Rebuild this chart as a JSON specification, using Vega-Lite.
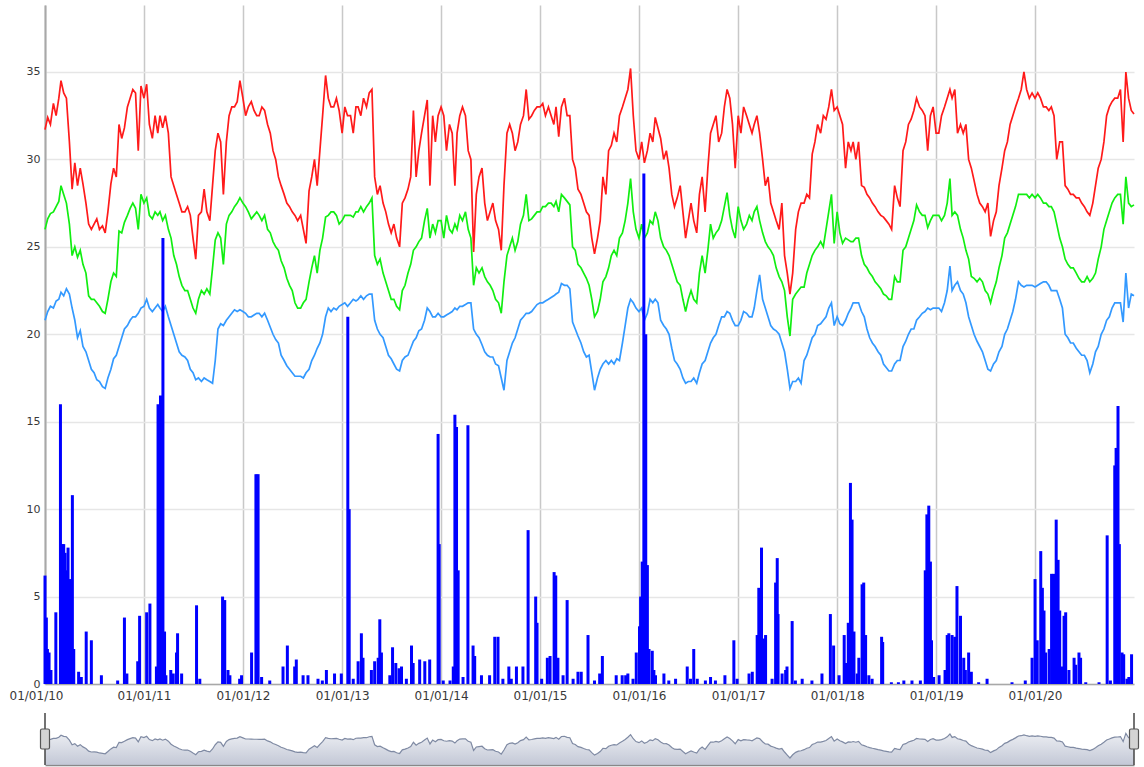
{
"$schema":"https://vega.github.io/schema/vega-lite/v6.json",
"padding":{"left":5,"top":5,"right":5,"bottom":2},
"background":"white",
"spacing":10,
"config":{"view":{"stroke":null},"axis":{"labelFont":"DejaVu Sans","labelColor":"#383838"},"scale":{"continuousPadding":0}},
"datasets":{
"ends":[{"d":"2010-01-01"},{"d":"2020-12-31"}],
"t":[
{"d":"2010-01-01","hi":31.7,"av":26.0,"lo":20.8},{"d":"2010-01-11","hi":32.4,"av":26.6,"lo":21.3},{"d":"2010-01-21","hi":32.0,"av":26.9,"lo":21.6},
{"d":"2010-02-01","hi":33.2,"av":27.0,"lo":21.5},{"d":"2010-02-11","hi":32.5,"av":27.3,"lo":21.9},{"d":"2010-02-21","hi":33.5,"av":27.6,"lo":22.0},
{"d":"2010-03-01","hi":34.5,"av":28.5,"lo":22.4},{"d":"2010-03-11","hi":33.8,"av":28.0,"lo":22.2},{"d":"2010-03-21","hi":33.5,"av":27.5,"lo":22.6},
{"d":"2010-04-01","hi":31.0,"av":26.3,"lo":22.3},{"d":"2010-04-11","hi":28.3,"av":24.5,"lo":21.5},{"d":"2010-04-21","hi":29.8,"av":25.0,"lo":20.8},
{"d":"2010-05-01","hi":28.5,"av":24.4,"lo":19.8},{"d":"2010-05-11","hi":29.5,"av":24.8,"lo":20.2},{"d":"2010-05-21","hi":28.6,"av":24.0,"lo":19.3},
{"d":"2010-06-01","hi":27.5,"av":23.5,"lo":19.0},{"d":"2010-06-11","hi":26.3,"av":22.2,"lo":18.5},{"d":"2010-06-21","hi":26.0,"av":22.0,"lo":18.0},
{"d":"2010-07-01","hi":26.3,"av":22.0,"lo":17.8},{"d":"2010-07-11","hi":26.6,"av":21.8,"lo":17.4},{"d":"2010-07-21","hi":26.0,"av":21.6,"lo":17.3},
{"d":"2010-08-01","hi":26.2,"av":21.3,"lo":17.0},{"d":"2010-08-11","hi":25.8,"av":21.2,"lo":16.9},{"d":"2010-08-21","hi":27.0,"av":22.0,"lo":17.5},
{"d":"2010-09-01","hi":28.6,"av":23.0,"lo":18.0},{"d":"2010-09-11","hi":29.5,"av":23.5,"lo":18.6},{"d":"2010-09-21","hi":29.0,"av":23.3,"lo":18.8},
{"d":"2010-10-01","hi":32.0,"av":25.9,"lo":19.3},{"d":"2010-10-11","hi":31.2,"av":25.8,"lo":19.8},{"d":"2010-10-21","hi":31.8,"av":26.4,"lo":20.3},
{"d":"2010-11-01","hi":33.0,"av":26.8,"lo":20.5},{"d":"2010-11-11","hi":33.5,"av":27.2,"lo":20.8},{"d":"2010-11-21","hi":34.0,"av":27.5,"lo":21.0},
{"d":"2010-12-01","hi":33.8,"av":27.2,"lo":21.0},{"d":"2010-12-11","hi":30.5,"av":26.0,"lo":21.2},{"d":"2010-12-21","hi":34.2,"av":28.0,"lo":21.5},
{"d":"2011-01-01","hi":33.5,"av":27.5,"lo":21.6},{"d":"2011-01-11","hi":34.3,"av":27.8,"lo":22.0},{"d":"2011-01-21","hi":32.0,"av":26.8,"lo":21.5},
{"d":"2011-02-01","hi":31.2,"av":26.6,"lo":21.3},{"d":"2011-02-11","hi":32.5,"av":27.0,"lo":21.5},{"d":"2011-02-21","hi":31.5,"av":26.8,"lo":21.7},
{"d":"2011-03-01","hi":32.5,"av":27.0,"lo":21.5},{"d":"2011-03-11","hi":31.8,"av":26.5,"lo":21.3},{"d":"2011-03-21","hi":32.5,"av":26.8,"lo":21.6},
{"d":"2011-04-01","hi":31.5,"av":26.0,"lo":21.0},{"d":"2011-04-11","hi":29.0,"av":25.5,"lo":20.5},{"d":"2011-04-21","hi":28.5,"av":24.5,"lo":20.0},
{"d":"2011-05-01","hi":28.0,"av":24.0,"lo":19.5},{"d":"2011-05-11","hi":27.5,"av":23.3,"lo":19.0},{"d":"2011-05-21","hi":27.0,"av":22.8,"lo":18.8},
{"d":"2011-06-01","hi":27.0,"av":22.5,"lo":18.7},{"d":"2011-06-11","hi":27.3,"av":22.5,"lo":18.5},{"d":"2011-06-21","hi":26.8,"av":22.0,"lo":18.0},
{"d":"2011-07-01","hi":25.5,"av":21.5,"lo":17.8},{"d":"2011-07-11","hi":24.3,"av":21.2,"lo":17.4},{"d":"2011-07-21","hi":26.8,"av":22.0,"lo":17.5},
{"d":"2011-08-01","hi":27.0,"av":22.5,"lo":17.3},{"d":"2011-08-11","hi":28.3,"av":22.3,"lo":17.5},{"d":"2011-08-21","hi":27.0,"av":22.6,"lo":17.4},
{"d":"2011-09-01","hi":26.5,"av":22.3,"lo":17.3},{"d":"2011-09-11","hi":28.5,"av":23.8,"lo":17.2},{"d":"2011-09-21","hi":30.5,"av":25.4,"lo":18.5},
{"d":"2011-10-01","hi":31.5,"av":25.8,"lo":20.3},{"d":"2011-10-11","hi":31.0,"av":25.5,"lo":20.6},{"d":"2011-10-21","hi":28.0,"av":24.0,"lo":20.5},
{"d":"2011-11-01","hi":31.0,"av":26.3,"lo":20.8},{"d":"2011-11-11","hi":32.5,"av":26.8,"lo":21.0},{"d":"2011-11-21","hi":33.0,"av":27.0,"lo":21.2},
{"d":"2011-12-01","hi":33.0,"av":27.3,"lo":21.4},{"d":"2011-12-11","hi":33.3,"av":27.5,"lo":21.3},{"d":"2011-12-21","hi":34.5,"av":27.8,"lo":21.4},
{"d":"2012-01-01","hi":33.5,"av":27.5,"lo":21.3},{"d":"2012-01-11","hi":32.5,"av":27.3,"lo":21.2},{"d":"2012-01-21","hi":33.0,"av":27.0,"lo":21.0},
{"d":"2012-02-01","hi":33.3,"av":26.6,"lo":21.0},{"d":"2012-02-11","hi":32.8,"av":26.8,"lo":21.1},{"d":"2012-02-21","hi":32.5,"av":27.0,"lo":21.2},
{"d":"2012-03-01","hi":32.5,"av":26.8,"lo":21.2},{"d":"2012-03-11","hi":33.0,"av":26.5,"lo":21.0},{"d":"2012-03-21","hi":32.8,"av":26.8,"lo":21.2},
{"d":"2012-04-01","hi":32.0,"av":26.0,"lo":20.8},{"d":"2012-04-11","hi":31.5,"av":25.8,"lo":20.4},{"d":"2012-04-21","hi":30.5,"av":25.3,"lo":20.0},
{"d":"2012-05-01","hi":30.0,"av":25.0,"lo":19.7},{"d":"2012-05-11","hi":29.0,"av":24.8,"lo":19.5},{"d":"2012-05-21","hi":28.5,"av":24.2,"lo":18.8},
{"d":"2012-06-01","hi":28.0,"av":23.8,"lo":18.5},{"d":"2012-06-11","hi":27.5,"av":23.2,"lo":18.2},{"d":"2012-06-21","hi":27.3,"av":22.8,"lo":18.0},
{"d":"2012-07-01","hi":27.0,"av":22.5,"lo":17.8},{"d":"2012-07-11","hi":26.8,"av":21.8,"lo":17.6},{"d":"2012-07-21","hi":26.5,"av":21.5,"lo":17.6},
{"d":"2012-08-01","hi":26.8,"av":21.5,"lo":17.6},{"d":"2012-08-11","hi":26.0,"av":21.8,"lo":17.5},{"d":"2012-08-21","hi":25.2,"av":22.0,"lo":17.8},
{"d":"2012-09-01","hi":28.2,"av":23.0,"lo":18.0},{"d":"2012-09-11","hi":29.0,"av":23.8,"lo":18.5},{"d":"2012-09-21","hi":30.0,"av":24.5,"lo":18.8},
{"d":"2012-10-01","hi":28.5,"av":23.5,"lo":19.2},{"d":"2012-10-11","hi":30.5,"av":24.8,"lo":19.5},{"d":"2012-10-21","hi":32.5,"av":25.5,"lo":20.0},
{"d":"2012-11-01","hi":34.8,"av":26.7,"lo":21.0},{"d":"2012-11-11","hi":33.5,"av":26.8,"lo":21.5},{"d":"2012-11-21","hi":33.0,"av":27.0,"lo":21.3},
{"d":"2012-12-01","hi":33.0,"av":27.0,"lo":21.5},{"d":"2012-12-11","hi":33.5,"av":26.8,"lo":21.4},{"d":"2012-12-21","hi":32.8,"av":26.3,"lo":21.6},
{"d":"2013-01-01","hi":31.5,"av":26.5,"lo":21.7},{"d":"2013-01-11","hi":33.0,"av":26.8,"lo":21.8},{"d":"2013-01-21","hi":32.5,"av":26.8,"lo":21.6},
{"d":"2013-02-01","hi":32.5,"av":26.8,"lo":21.8},{"d":"2013-02-11","hi":31.5,"av":26.7,"lo":22.0},{"d":"2013-02-21","hi":33.0,"av":27.0,"lo":21.9},
{"d":"2013-03-01","hi":33.0,"av":27.0,"lo":22.0},{"d":"2013-03-11","hi":32.5,"av":27.3,"lo":22.2},{"d":"2013-03-21","hi":33.5,"av":27.0,"lo":22.0},
{"d":"2013-04-01","hi":33.0,"av":27.3,"lo":22.2},{"d":"2013-04-11","hi":33.8,"av":27.5,"lo":22.3},{"d":"2013-04-21","hi":34.0,"av":27.8,"lo":22.3},
{"d":"2013-05-01","hi":29.0,"av":24.5,"lo":20.8},{"d":"2013-05-11","hi":28.0,"av":24.0,"lo":20.3},{"d":"2013-05-21","hi":28.5,"av":24.3,"lo":20.0},
{"d":"2013-06-01","hi":27.5,"av":23.5,"lo":19.8},{"d":"2013-06-11","hi":27.0,"av":23.0,"lo":19.3},{"d":"2013-06-21","hi":26.3,"av":22.5,"lo":18.8},
{"d":"2013-07-01","hi":25.8,"av":22.0,"lo":18.6},{"d":"2013-07-11","hi":26.3,"av":22.0,"lo":18.3},{"d":"2013-07-21","hi":25.5,"av":21.6,"lo":18.0},
{"d":"2013-08-01","hi":25.0,"av":21.4,"lo":17.9},{"d":"2013-08-11","hi":27.5,"av":22.5,"lo":18.5},{"d":"2013-08-21","hi":27.8,"av":22.8,"lo":18.7},
{"d":"2013-09-01","hi":28.3,"av":23.5,"lo":18.8},{"d":"2013-09-11","hi":29.0,"av":24.0,"lo":19.2},{"d":"2013-09-21","hi":32.8,"av":24.8,"lo":19.6},
{"d":"2013-10-01","hi":29.0,"av":25.0,"lo":19.8},{"d":"2013-10-11","hi":30.5,"av":25.3,"lo":20.2},{"d":"2013-10-21","hi":31.5,"av":25.5,"lo":20.3},
{"d":"2013-11-01","hi":32.5,"av":26.5,"lo":20.8},{"d":"2013-11-11","hi":33.4,"av":27.2,"lo":21.5},{"d":"2013-11-21","hi":28.5,"av":25.5,"lo":21.3},
{"d":"2013-12-01","hi":32.5,"av":26.3,"lo":21.0},{"d":"2013-12-11","hi":31.0,"av":25.8,"lo":21.0},{"d":"2013-12-21","hi":32.5,"av":26.5,"lo":21.2},
{"d":"2014-01-01","hi":33.0,"av":26.5,"lo":21.0},{"d":"2014-01-11","hi":32.5,"av":25.5,"lo":21.0},{"d":"2014-01-21","hi":30.5,"av":26.8,"lo":21.1},
{"d":"2014-02-01","hi":32.0,"av":26.0,"lo":21.2},{"d":"2014-02-11","hi":31.5,"av":25.8,"lo":21.3},{"d":"2014-02-21","hi":28.5,"av":26.3,"lo":21.5},
{"d":"2014-03-01","hi":31.5,"av":26.0,"lo":21.4},{"d":"2014-03-11","hi":32.5,"av":26.8,"lo":21.6},{"d":"2014-03-21","hi":33.0,"av":26.5,"lo":21.6},
{"d":"2014-04-01","hi":32.5,"av":27.0,"lo":21.7},{"d":"2014-04-11","hi":30.5,"av":26.0,"lo":21.8},{"d":"2014-04-21","hi":30.0,"av":25.5,"lo":21.8},
{"d":"2014-05-01","hi":24.7,"av":22.8,"lo":20.3},{"d":"2014-05-11","hi":28.0,"av":23.8,"lo":20.0},{"d":"2014-05-21","hi":29.0,"av":23.5,"lo":19.8},
{"d":"2014-06-01","hi":29.5,"av":23.8,"lo":19.4},{"d":"2014-06-11","hi":27.5,"av":23.3,"lo":19.0},{"d":"2014-06-21","hi":26.5,"av":23.0,"lo":18.8},
{"d":"2014-07-01","hi":27.0,"av":22.8,"lo":18.7},{"d":"2014-07-11","hi":27.5,"av":22.5,"lo":18.7},{"d":"2014-07-21","hi":26.5,"av":22.0,"lo":18.3},
{"d":"2014-08-01","hi":26.0,"av":21.8,"lo":18.2},{"d":"2014-08-11","hi":24.8,"av":21.2,"lo":17.5},{"d":"2014-08-21","hi":28.5,"av":23.0,"lo":16.8},
{"d":"2014-09-01","hi":31.5,"av":24.5,"lo":18.5},{"d":"2014-09-11","hi":32.0,"av":25.0,"lo":19.0},{"d":"2014-09-21","hi":31.5,"av":25.5,"lo":19.5},
{"d":"2014-10-01","hi":30.5,"av":24.8,"lo":19.8},{"d":"2014-10-11","hi":31.0,"av":25.3,"lo":20.3},{"d":"2014-10-21","hi":32.0,"av":26.3,"lo":20.8},
{"d":"2014-11-01","hi":32.5,"av":26.8,"lo":21.0},{"d":"2014-11-11","hi":34.0,"av":28.0,"lo":21.2},{"d":"2014-11-21","hi":32.3,"av":26.5,"lo":21.2},
{"d":"2014-12-01","hi":32.5,"av":26.6,"lo":21.3},{"d":"2014-12-11","hi":32.8,"av":26.8,"lo":21.5},{"d":"2014-12-21","hi":33.0,"av":27.0,"lo":21.7},
{"d":"2015-01-01","hi":33.0,"av":27.0,"lo":21.8},{"d":"2015-01-11","hi":33.2,"av":27.3,"lo":21.8},{"d":"2015-01-21","hi":32.5,"av":27.3,"lo":21.9},
{"d":"2015-02-01","hi":33.0,"av":27.5,"lo":22.0},{"d":"2015-02-11","hi":32.5,"av":27.5,"lo":22.1},{"d":"2015-02-21","hi":32.0,"av":27.3,"lo":22.2},
{"d":"2015-03-01","hi":33.0,"av":27.6,"lo":22.3},{"d":"2015-03-11","hi":31.3,"av":27.0,"lo":22.4},{"d":"2015-03-21","hi":33.0,"av":28.0,"lo":22.9},
{"d":"2015-04-01","hi":33.5,"av":27.8,"lo":22.8},{"d":"2015-04-11","hi":32.5,"av":27.6,"lo":22.8},{"d":"2015-04-21","hi":32.5,"av":27.4,"lo":22.6},
{"d":"2015-05-01","hi":30.0,"av":25.0,"lo":20.7},{"d":"2015-05-11","hi":29.5,"av":24.8,"lo":20.3},{"d":"2015-05-21","hi":28.3,"av":24.0,"lo":19.9},
{"d":"2015-06-01","hi":28.0,"av":23.8,"lo":19.5},{"d":"2015-06-11","hi":27.5,"av":23.5,"lo":19.0},{"d":"2015-06-21","hi":27.0,"av":23.2,"lo":18.7},
{"d":"2015-07-01","hi":26.8,"av":22.8,"lo":18.8},{"d":"2015-07-11","hi":25.5,"av":22.0,"lo":17.8},{"d":"2015-07-21","hi":24.6,"av":21.0,"lo":16.8},
{"d":"2015-08-01","hi":25.5,"av":21.3,"lo":17.5},{"d":"2015-08-11","hi":26.5,"av":22.0,"lo":18.0},{"d":"2015-08-21","hi":29.0,"av":23.0,"lo":18.3},
{"d":"2015-09-01","hi":28.0,"av":23.3,"lo":18.5},{"d":"2015-09-11","hi":30.5,"av":23.8,"lo":18.3},{"d":"2015-09-21","hi":30.8,"av":24.5,"lo":18.5},
{"d":"2015-10-01","hi":31.5,"av":24.8,"lo":18.3},{"d":"2015-10-11","hi":31.0,"av":24.5,"lo":18.6},{"d":"2015-10-21","hi":32.5,"av":25.5,"lo":18.5},
{"d":"2015-11-01","hi":33.0,"av":25.8,"lo":19.5},{"d":"2015-11-11","hi":33.5,"av":26.5,"lo":20.5},{"d":"2015-11-21","hi":34.0,"av":27.5,"lo":21.5},
{"d":"2015-12-01","hi":35.2,"av":28.9,"lo":22.0},{"d":"2015-12-11","hi":32.5,"av":27.0,"lo":21.8},{"d":"2015-12-21","hi":30.5,"av":26.0,"lo":21.5},
{"d":"2016-01-01","hi":30.0,"av":25.5,"lo":21.3},{"d":"2016-01-11","hi":31.0,"av":26.3,"lo":21.5},{"d":"2016-01-21","hi":29.8,"av":25.5,"lo":20.8},
{"d":"2016-02-01","hi":30.5,"av":25.8,"lo":21.2},{"d":"2016-02-11","hi":31.5,"av":26.5,"lo":22.0},{"d":"2016-02-21","hi":31.0,"av":26.3,"lo":21.8},
{"d":"2016-03-01","hi":32.4,"av":27.0,"lo":22.0},{"d":"2016-03-11","hi":31.8,"av":26.5,"lo":21.8},{"d":"2016-03-21","hi":31.2,"av":25.5,"lo":20.8},
{"d":"2016-04-01","hi":30.0,"av":25.0,"lo":20.5},{"d":"2016-04-11","hi":30.5,"av":24.8,"lo":20.3},{"d":"2016-04-21","hi":29.5,"av":24.5,"lo":20.0},
{"d":"2016-05-01","hi":28.0,"av":24.0,"lo":19.2},{"d":"2016-05-11","hi":27.3,"av":23.5,"lo":18.5},{"d":"2016-05-21","hi":27.8,"av":23.0,"lo":18.3},
{"d":"2016-06-01","hi":28.5,"av":22.8,"lo":18.0},{"d":"2016-06-11","hi":27.0,"av":22.0,"lo":17.5},{"d":"2016-06-21","hi":25.5,"av":21.3,"lo":17.2},
{"d":"2016-07-01","hi":26.5,"av":22.0,"lo":17.3},{"d":"2016-07-11","hi":27.5,"av":22.5,"lo":17.3},{"d":"2016-07-21","hi":26.5,"av":22.0,"lo":17.5},
{"d":"2016-08-01","hi":25.8,"av":21.8,"lo":17.2},{"d":"2016-08-11","hi":28.0,"av":23.5,"lo":17.8},{"d":"2016-08-21","hi":29.0,"av":24.5,"lo":18.3},
{"d":"2016-09-01","hi":27.0,"av":23.5,"lo":18.5},{"d":"2016-09-11","hi":29.5,"av":24.8,"lo":19.0},{"d":"2016-09-21","hi":31.5,"av":26.3,"lo":19.5},
{"d":"2016-10-01","hi":32.0,"av":25.5,"lo":19.8},{"d":"2016-10-11","hi":32.5,"av":25.8,"lo":20.0},{"d":"2016-10-21","hi":31.0,"av":26.0,"lo":20.5},
{"d":"2016-11-01","hi":31.5,"av":26.5,"lo":21.0},{"d":"2016-11-11","hi":33.0,"av":27.3,"lo":21.0},{"d":"2016-11-21","hi":34.0,"av":28.1,"lo":21.3},
{"d":"2016-12-01","hi":33.5,"av":26.8,"lo":21.2},{"d":"2016-12-11","hi":32.0,"av":26.0,"lo":20.8},{"d":"2016-12-21","hi":29.5,"av":25.5,"lo":20.5},
{"d":"2017-01-01","hi":32.5,"av":27.3,"lo":20.5},{"d":"2017-01-11","hi":31.5,"av":26.5,"lo":20.8},{"d":"2017-01-21","hi":33.0,"av":26.0,"lo":21.3},
{"d":"2017-02-01","hi":32.5,"av":26.3,"lo":21.2},{"d":"2017-02-11","hi":32.0,"av":26.8,"lo":21.0},{"d":"2017-02-21","hi":31.5,"av":26.5,"lo":21.0},
{"d":"2017-03-01","hi":32.0,"av":27.0,"lo":21.5},{"d":"2017-03-11","hi":32.5,"av":27.3,"lo":22.5},{"d":"2017-03-21","hi":31.5,"av":26.5,"lo":23.4},
{"d":"2017-04-01","hi":30.0,"av":25.8,"lo":22.0},{"d":"2017-04-11","hi":28.5,"av":25.3,"lo":21.5},{"d":"2017-04-21","hi":29.0,"av":25.0,"lo":21.0},
{"d":"2017-05-01","hi":27.5,"av":24.8,"lo":20.5},{"d":"2017-05-11","hi":27.0,"av":24.5,"lo":20.3},{"d":"2017-05-21","hi":26.5,"av":23.8,"lo":20.2},
{"d":"2017-06-01","hi":26.0,"av":23.3,"lo":20.0},{"d":"2017-06-11","hi":27.5,"av":23.0,"lo":19.5},{"d":"2017-06-21","hi":24.5,"av":22.5,"lo":19.0},
{"d":"2017-07-01","hi":23.5,"av":21.0,"lo":18.0},{"d":"2017-07-11","hi":22.3,"av":19.9,"lo":16.9},{"d":"2017-07-21","hi":23.5,"av":22.0,"lo":17.3},
{"d":"2017-08-01","hi":26.0,"av":22.3,"lo":17.3},{"d":"2017-08-11","hi":27.0,"av":22.5,"lo":17.5},{"d":"2017-08-21","hi":27.5,"av":22.7,"lo":17.2},
{"d":"2017-09-01","hi":27.5,"av":22.7,"lo":18.5},{"d":"2017-09-11","hi":28.0,"av":23.5,"lo":18.8},{"d":"2017-09-21","hi":27.8,"av":24.0,"lo":19.3},
{"d":"2017-10-01","hi":30.3,"av":24.5,"lo":19.8},{"d":"2017-10-11","hi":31.0,"av":24.8,"lo":20.0},{"d":"2017-10-21","hi":32.0,"av":25.0,"lo":20.5},
{"d":"2017-11-01","hi":31.5,"av":25.3,"lo":20.6},{"d":"2017-11-11","hi":32.5,"av":25.0,"lo":20.8},{"d":"2017-11-21","hi":32.3,"av":26.0,"lo":21.0},
{"d":"2017-12-01","hi":33.0,"av":27.0,"lo":21.5},{"d":"2017-12-11","hi":34.0,"av":28.0,"lo":21.8},{"d":"2017-12-21","hi":32.8,"av":25.2,"lo":20.5},
{"d":"2018-01-01","hi":33.0,"av":27.0,"lo":21.0},{"d":"2018-01-11","hi":32.5,"av":25.8,"lo":20.6},{"d":"2018-01-21","hi":32.0,"av":25.2,"lo":20.5},
{"d":"2018-02-01","hi":29.5,"av":25.5,"lo":20.8},{"d":"2018-02-11","hi":31.0,"av":25.4,"lo":21.2},{"d":"2018-02-21","hi":30.5,"av":25.3,"lo":21.5},
{"d":"2018-03-01","hi":31.0,"av":25.3,"lo":21.8},{"d":"2018-03-11","hi":30.0,"av":25.5,"lo":21.8},{"d":"2018-03-21","hi":31.0,"av":25.5,"lo":21.8},
{"d":"2018-04-01","hi":28.5,"av":24.5,"lo":21.3},{"d":"2018-04-11","hi":28.4,"av":24.0,"lo":21.0},{"d":"2018-04-21","hi":28.0,"av":23.8,"lo":20.3},
{"d":"2018-05-01","hi":27.8,"av":23.5,"lo":19.8},{"d":"2018-05-11","hi":27.5,"av":23.3,"lo":19.5},{"d":"2018-05-21","hi":27.3,"av":23.0,"lo":19.3},
{"d":"2018-06-01","hi":27.0,"av":22.8,"lo":19.0},{"d":"2018-06-11","hi":26.8,"av":22.6,"lo":18.8},{"d":"2018-06-21","hi":26.7,"av":22.3,"lo":18.3},
{"d":"2018-07-01","hi":26.5,"av":22.2,"lo":18.1},{"d":"2018-07-11","hi":26.3,"av":22.0,"lo":17.9},{"d":"2018-07-21","hi":26.0,"av":22.0,"lo":17.9},
{"d":"2018-08-01","hi":28.5,"av":23.3,"lo":18.3},{"d":"2018-08-11","hi":27.8,"av":23.0,"lo":18.5},{"d":"2018-08-21","hi":27.3,"av":23.0,"lo":18.5},
{"d":"2018-09-01","hi":30.5,"av":24.8,"lo":19.3},{"d":"2018-09-11","hi":31.0,"av":25.0,"lo":19.6},{"d":"2018-09-21","hi":32.0,"av":25.5,"lo":20.0},
{"d":"2018-10-01","hi":32.3,"av":26.0,"lo":20.3},{"d":"2018-10-11","hi":32.8,"av":26.5,"lo":20.3},{"d":"2018-10-21","hi":33.5,"av":27.4,"lo":20.8},
{"d":"2018-11-01","hi":33.0,"av":27.0,"lo":21.0},{"d":"2018-11-11","hi":32.8,"av":26.8,"lo":21.2},{"d":"2018-11-21","hi":32.5,"av":26.8,"lo":21.3},
{"d":"2018-12-01","hi":30.5,"av":26.1,"lo":21.5},{"d":"2018-12-11","hi":32.5,"av":26.5,"lo":21.4},{"d":"2018-12-21","hi":33.0,"av":26.8,"lo":21.5},
{"d":"2019-01-01","hi":31.5,"av":26.8,"lo":21.5},{"d":"2019-01-11","hi":31.5,"av":26.8,"lo":21.5},{"d":"2019-01-21","hi":32.5,"av":26.5,"lo":21.3},
{"d":"2019-02-01","hi":33.0,"av":26.8,"lo":21.8},{"d":"2019-02-11","hi":33.5,"av":27.5,"lo":22.5},{"d":"2019-02-21","hi":34.0,"av":28.9,"lo":23.9},
{"d":"2019-03-01","hi":33.5,"av":26.8,"lo":22.5},{"d":"2019-03-11","hi":34.0,"av":27.0,"lo":22.8},{"d":"2019-03-21","hi":31.5,"av":26.8,"lo":23.0},
{"d":"2019-04-01","hi":32.0,"av":26.0,"lo":22.5},{"d":"2019-04-11","hi":31.5,"av":25.5,"lo":22.3},{"d":"2019-04-21","hi":32.0,"av":24.8,"lo":21.8},
{"d":"2019-05-01","hi":30.0,"av":24.3,"lo":21.0},{"d":"2019-05-11","hi":29.5,"av":23.3,"lo":20.5},{"d":"2019-05-21","hi":28.8,"av":23.2,"lo":20.0},
{"d":"2019-06-01","hi":28.0,"av":23.0,"lo":19.6},{"d":"2019-06-11","hi":27.5,"av":23.2,"lo":19.3},{"d":"2019-06-21","hi":27.3,"av":23.0,"lo":19.0},
{"d":"2019-07-01","hi":27.0,"av":22.5,"lo":18.5},{"d":"2019-07-11","hi":27.5,"av":22.3,"lo":18.0},{"d":"2019-07-21","hi":25.6,"av":21.8,"lo":17.9},
{"d":"2019-08-01","hi":26.5,"av":22.5,"lo":18.3},{"d":"2019-08-11","hi":27.0,"av":23.0,"lo":18.5},{"d":"2019-08-21","hi":28.5,"av":23.8,"lo":19.0},
{"d":"2019-09-01","hi":29.5,"av":24.5,"lo":19.3},{"d":"2019-09-11","hi":30.5,"av":25.5,"lo":20.0},{"d":"2019-09-21","hi":31.0,"av":25.8,"lo":20.3},
{"d":"2019-10-01","hi":32.0,"av":26.3,"lo":20.8},{"d":"2019-10-11","hi":32.5,"av":26.8,"lo":21.3},{"d":"2019-10-21","hi":33.0,"av":27.3,"lo":22.0},
{"d":"2019-11-01","hi":33.5,"av":28.0,"lo":23.0},{"d":"2019-11-11","hi":34.0,"av":28.0,"lo":22.8},{"d":"2019-11-21","hi":35.0,"av":28.0,"lo":22.7},
{"d":"2019-12-01","hi":34.0,"av":28.0,"lo":22.8},{"d":"2019-12-11","hi":33.5,"av":27.8,"lo":22.8},{"d":"2019-12-21","hi":33.8,"av":28.0,"lo":22.8},
{"d":"2020-01-01","hi":33.5,"av":27.8,"lo":22.7},{"d":"2020-01-11","hi":33.8,"av":28.0,"lo":22.8},{"d":"2020-01-21","hi":33.5,"av":27.8,"lo":22.9},
{"d":"2020-02-01","hi":33.0,"av":27.5,"lo":23.0},{"d":"2020-02-11","hi":33.0,"av":27.5,"lo":23.0},{"d":"2020-02-21","hi":32.8,"av":27.3,"lo":22.8},
{"d":"2020-03-01","hi":33.0,"av":27.3,"lo":22.5},{"d":"2020-03-11","hi":32.5,"av":27.0,"lo":22.5},{"d":"2020-03-21","hi":30.0,"av":26.3,"lo":22.5},
{"d":"2020-04-01","hi":31.0,"av":25.5,"lo":22.0},{"d":"2020-04-11","hi":31.0,"av":25.0,"lo":21.5},{"d":"2020-04-21","hi":28.5,"av":24.3,"lo":20.0},
{"d":"2020-05-01","hi":28.3,"av":24.0,"lo":19.8},{"d":"2020-05-11","hi":28.0,"av":23.8,"lo":19.5},{"d":"2020-05-21","hi":28.0,"av":23.8,"lo":19.5},
{"d":"2020-06-01","hi":27.8,"av":23.5,"lo":19.2},{"d":"2020-06-11","hi":27.8,"av":23.2,"lo":19.0},{"d":"2020-06-21","hi":27.5,"av":23.0,"lo":18.8},
{"d":"2020-07-01","hi":27.3,"av":23.0,"lo":18.8},{"d":"2020-07-11","hi":27.0,"av":23.3,"lo":18.5},{"d":"2020-07-21","hi":26.8,"av":23.0,"lo":17.8},
{"d":"2020-08-01","hi":27.5,"av":23.2,"lo":18.3},{"d":"2020-08-11","hi":28.5,"av":23.5,"lo":19.0},{"d":"2020-08-21","hi":29.5,"av":24.3,"lo":19.3},
{"d":"2020-09-01","hi":30.0,"av":25.0,"lo":20.0},{"d":"2020-09-11","hi":31.0,"av":26.0,"lo":20.3},{"d":"2020-09-21","hi":32.5,"av":26.5,"lo":20.8},
{"d":"2020-10-01","hi":33.0,"av":27.0,"lo":21.0},{"d":"2020-10-11","hi":33.3,"av":27.5,"lo":21.5},{"d":"2020-10-21","hi":33.5,"av":27.8,"lo":21.8},
{"d":"2020-11-01","hi":33.5,"av":28.0,"lo":21.8},{"d":"2020-11-11","hi":34.0,"av":28.0,"lo":21.8},{"d":"2020-11-21","hi":31.0,"av":26.3,"lo":20.7},
{"d":"2020-12-01","hi":35.0,"av":29.0,"lo":23.5},{"d":"2020-12-11","hi":33.5,"av":27.5,"lo":21.5},{"d":"2020-12-21","hi":32.8,"av":27.3,"lo":22.3},
{"d":"2020-12-31","hi":32.6,"av":27.4,"lo":22.2}
],
"rain":[
{"d":"2010-01-01","r":6.2},{"d":"2010-01-06","r":3.8},{"d":"2010-01-10","r":2.0},{"d":"2010-01-16","r":1.8},{"d":"2010-01-23","r":0.8},{"d":"2010-02-10","r":4.1},{"d":"2010-02-27","r":16.0},{"d":"2010-03-06","r":8.0},{"d":"2010-03-11","r":8.0},{"d":"2010-03-16","r":7.5},{"d":"2010-03-22","r":6.5},{"d":"2010-03-27","r":7.8},{"d":"2010-04-02","r":6.0},{"d":"2010-04-12","r":10.8},{"d":"2010-04-17","r":2.0},{"d":"2010-05-05","r":0.7},{"d":"2010-05-15","r":0.4},{"d":"2010-06-02","r":3.0},{"d":"2010-06-21","r":2.5},{"d":"2010-07-28","r":0.5},{"d":"2010-09-26","r":0.2},{"d":"2010-10-21","r":3.8},{"d":"2010-10-30","r":0.6},{"d":"2010-12-09","r":1.3},{"d":"2010-12-16","r":3.9},
{"d":"2011-01-11","r":4.1},{"d":"2011-01-23","r":4.6},{"d":"2011-02-16","r":1.0},{"d":"2011-02-22","r":16.0},{"d":"2011-03-03","r":16.5},{"d":"2011-03-12","r":25.5},{"d":"2011-03-18","r":3.0},{"d":"2011-03-23","r":0.5},{"d":"2011-04-10","r":0.8},{"d":"2011-04-19","r":0.6},{"d":"2011-05-01","r":1.8},{"d":"2011-05-05","r":2.9},{"d":"2011-05-20","r":0.6},{"d":"2011-07-14","r":4.5},{"d":"2011-07-26","r":0.3},{"d":"2011-10-18","r":5.0},{"d":"2011-10-26","r":4.8},{"d":"2011-11-07","r":0.8},{"d":"2011-11-14","r":0.5},{"d":"2011-12-20","r":0.3},{"d":"2011-12-27","r":0.5},
{"d":"2012-02-02","r":1.8},{"d":"2012-02-18","r":12.0},{"d":"2012-02-26","r":12.0},{"d":"2012-03-10","r":0.4},{"d":"2012-04-09","r":0.2},{"d":"2012-05-28","r":1.0},{"d":"2012-06-13","r":2.2},{"d":"2012-07-10","r":1.0},{"d":"2012-07-16","r":1.4},{"d":"2012-08-10","r":0.5},{"d":"2012-08-28","r":0.5},{"d":"2012-10-04","r":0.3},{"d":"2012-10-20","r":0.2},{"d":"2012-11-04","r":0.8},{"d":"2012-12-04","r":0.6},{"d":"2012-12-29","r":0.6},
{"d":"2013-01-22","r":21.0},{"d":"2013-01-27","r":10.0},{"d":"2013-02-11","r":0.3},{"d":"2013-03-01","r":1.3},{"d":"2013-03-13","r":2.9},{"d":"2013-03-19","r":1.5},{"d":"2013-04-19","r":0.8},{"d":"2013-05-01","r":1.3},{"d":"2013-05-14","r":1.5},{"d":"2013-05-20","r":3.7},{"d":"2013-05-26","r":1.8},{"d":"2013-06-26","r":0.5},{"d":"2013-07-06","r":2.1},{"d":"2013-07-18","r":1.2},{"d":"2013-07-30","r":0.9},{"d":"2013-08-08","r":1.0},{"d":"2013-08-26","r":0.3},{"d":"2013-09-14","r":2.2},{"d":"2013-09-20","r":1.2},{"d":"2013-10-14","r":1.4},{"d":"2013-11-02","r":1.3},{"d":"2013-11-20","r":1.4},{"d":"2013-12-21","r":14.3},{"d":"2013-12-25","r":8.0},
{"d":"2014-01-09","r":0.2},{"d":"2014-02-03","r":0.2},{"d":"2014-02-15","r":1.0},{"d":"2014-02-21","r":15.4},{"d":"2014-02-27","r":14.7},{"d":"2014-03-05","r":6.5},{"d":"2014-03-23","r":0.4},{"d":"2014-04-10","r":14.8},{"d":"2014-04-29","r":2.2},{"d":"2014-05-05","r":1.6},{"d":"2014-05-30","r":0.5},{"d":"2014-06-29","r":0.5},{"d":"2014-07-18","r":2.7},{"d":"2014-07-30","r":2.7},{"d":"2014-08-17","r":0.3},{"d":"2014-09-08","r":1.0},{"d":"2014-09-17","r":0.3},{"d":"2014-10-06","r":1.0},{"d":"2014-10-30","r":1.0},{"d":"2014-11-18","r":8.8},{"d":"2014-12-16","r":5.0},{"d":"2014-12-21","r":3.5},
{"d":"2015-01-07","r":0.3},{"d":"2015-01-28","r":1.5},{"d":"2015-02-07","r":1.6},{"d":"2015-02-22","r":6.4},{"d":"2015-02-28","r":6.2},{"d":"2015-03-08","r":1.5},{"d":"2015-03-27","r":0.5},{"d":"2015-04-11","r":4.8},{"d":"2015-05-03","r":0.3},{"d":"2015-05-21","r":0.7},{"d":"2015-06-02","r":0.7},{"d":"2015-06-27","r":2.8},{"d":"2015-07-21","r":0.2},{"d":"2015-08-09","r":0.6},{"d":"2015-08-19","r":1.6},{"d":"2015-10-09","r":0.5},{"d":"2015-10-31","r":0.5},{"d":"2015-11-13","r":0.5},{"d":"2015-11-21","r":0.6},{"d":"2015-12-10","r":0.3},{"d":"2015-12-22","r":1.8},
{"d":"2016-01-03","r":3.3},{"d":"2016-01-07","r":5.0},{"d":"2016-01-13","r":7.0},{"d":"2016-01-19","r":29.2},{"d":"2016-01-26","r":20.0},{"d":"2016-02-01","r":6.8},{"d":"2016-02-07","r":2.0},{"d":"2016-02-19","r":1.9},{"d":"2016-02-25","r":0.8},{"d":"2016-03-02","r":0.5},{"d":"2016-04-02","r":0.6},{"d":"2016-04-20","r":0.2},{"d":"2016-05-15","r":0.3},{"d":"2016-06-27","r":1.0},{"d":"2016-07-09","r":0.3},{"d":"2016-07-21","r":2.0},{"d":"2016-08-03","r":0.3},{"d":"2016-09-02","r":0.2},{"d":"2016-09-21","r":0.4},{"d":"2016-10-09","r":0.2},{"d":"2016-11-13","r":0.5},{"d":"2016-12-16","r":2.5},{"d":"2016-12-28","r":0.3},
{"d":"2017-02-10","r":0.6},{"d":"2017-02-22","r":0.7},{"d":"2017-03-12","r":2.8},{"d":"2017-03-18","r":5.5},{"d":"2017-03-28","r":7.8},{"d":"2017-04-06","r":2.6},{"d":"2017-04-12","r":2.8},{"d":"2017-05-06","r":0.3},{"d":"2017-05-19","r":5.8},{"d":"2017-05-25","r":7.2},{"d":"2017-05-28","r":4.0},{"d":"2017-06-12","r":0.6},{"d":"2017-06-25","r":0.8},{"d":"2017-06-30","r":1.0},{"d":"2017-07-19","r":3.6},{"d":"2017-07-31","r":0.2},{"d":"2017-08-25","r":0.3},{"d":"2017-09-30","r":0.2},{"d":"2017-11-06","r":0.6},{"d":"2017-12-07","r":4.0},{"d":"2017-12-19","r":2.2},
{"d":"2018-01-08","r":0.5},{"d":"2018-01-27","r":2.8},{"d":"2018-02-02","r":1.2},{"d":"2018-02-11","r":3.5},{"d":"2018-02-19","r":11.5},{"d":"2018-02-25","r":9.4},{"d":"2018-03-04","r":3.0},{"d":"2018-03-16","r":0.6},{"d":"2018-03-22","r":1.5},{"d":"2018-04-03","r":5.7},{"d":"2018-04-09","r":5.8},{"d":"2018-04-16","r":2.8},{"d":"2018-04-28","r":0.5},{"d":"2018-05-10","r":0.3},{"d":"2018-06-14","r":2.7},{"d":"2018-06-18","r":2.4},{"d":"2018-07-20","r":0.1},{"d":"2018-08-15","r":0.1},{"d":"2018-09-04","r":0.2},{"d":"2018-10-04","r":0.2},{"d":"2018-11-04","r":0.2},{"d":"2018-11-22","r":6.5},{"d":"2018-11-28","r":9.7},{"d":"2018-12-05","r":10.2},{"d":"2018-12-11","r":7.0},{"d":"2018-12-15","r":2.5},{"d":"2018-12-23","r":0.4},
{"d":"2019-01-12","r":0.5},{"d":"2019-02-03","r":0.8},{"d":"2019-02-11","r":2.8},{"d":"2019-02-17","r":2.9},{"d":"2019-03-01","r":2.8},{"d":"2019-03-11","r":2.7},{"d":"2019-03-19","r":5.6},{"d":"2019-04-01","r":3.9},{"d":"2019-04-13","r":1.5},{"d":"2019-04-19","r":0.8},{"d":"2019-05-01","r":1.8},{"d":"2019-05-11","r":0.7},{"d":"2019-06-07","r":0.1},{"d":"2019-07-08","r":0.3},{"d":"2019-10-08","r":0.1},{"d":"2019-11-26","r":0.2},{"d":"2019-12-21","r":1.5},
{"d":"2020-01-01","r":6.0},{"d":"2020-01-09","r":2.5},{"d":"2020-01-22","r":7.6},{"d":"2020-01-28","r":5.5},{"d":"2020-02-03","r":4.2},{"d":"2020-02-09","r":1.8},{"d":"2020-02-22","r":2.0},{"d":"2020-03-02","r":6.3},{"d":"2020-03-11","r":6.3},{"d":"2020-03-19","r":9.4},{"d":"2020-03-26","r":7.1},{"d":"2020-04-01","r":4.2},{"d":"2020-04-08","r":1.0},{"d":"2020-04-17","r":3.9},{"d":"2020-04-23","r":4.1},{"d":"2020-05-05","r":0.8},{"d":"2020-05-24","r":1.5},{"d":"2020-05-30","r":1.1},{"d":"2020-06-11","r":1.8},{"d":"2020-06-17","r":1.5},{"d":"2020-07-06","r":0.1},{"d":"2020-08-24","r":0.1},{"d":"2020-09-23","r":8.5},{"d":"2020-10-05","r":0.2},{"d":"2020-10-21","r":12.5},{"d":"2020-10-26","r":13.5},{"d":"2020-11-02","r":15.9},{"d":"2020-11-07","r":8.0},{"d":"2020-11-17","r":1.8},{"d":"2020-11-23","r":1.7},{"d":"2020-12-05","r":0.3},{"d":"2020-12-12","r":0.4},{"d":"2020-12-22","r":1.7}
]
},
"vconcat":[
{
"width":1089,"height":679,
"layer":[
{"data":{"name":"t"},"transform":[{"fold":["hi","av","lo"]}],
"mark":{"type":"line","strokeWidth":1.7},
"encoding":{
"x":{"field":"d","type":"temporal","scale":{"type":"utc","nice":false,"padding":0,"domain":[{"year":2010,"month":1,"date":1,"utc":true},{"year":2020,"month":12,"date":31,"utc":true}]},
"axis":{"title":null,"format":"%d/%m/%y","tickCount":{"interval":"year","step":1},"grid":true,"gridColor":"#c8c8c8","gridWidth":1.5,"ticks":false,"labelPadding":6,"labelFontSize":12,"labelOffset":{"condition":{"test":"utcyear(datum.value) == 2010","value":-9},"value":0},"domainColor":"#a8a8a8","domainWidth":1.5,"labelFlush":false,"labelOverlap":false,"minExtent":18,"maxExtent":18}},
"y":{"field":"value","type":"quantitative","scale":{"domain":[0,38.83],"nice":false},
"axis":{"title":null,"values":[0,5,10,15,20,25,30,35],"grid":true,"gridColor":"#e6e6e6","gridWidth":1.5,"ticks":false,"labelPadding":5,"labelFontSize":11,"domainColor":"#a8a8a8","domainWidth":2,"minExtent":40,"maxExtent":40}},
"color":{"field":"key","type":"nominal","scale":{"domain":["hi","av","lo"],"range":["#ff1a1a","#11ee11","#3399ff"]},"legend":null}
}},
{"data":{"name":"rain"},
"mark":{"type":"bar","width":3,"color":"#0000ff"},
"encoding":{
"x":{"field":"d","type":"temporal","scale":{"type":"utc","nice":false,"padding":0}},
"y":{"field":"r","type":"quantitative"}
}}
]
},
{
"width":1089,"height":52,
"layer":[
{"data":{"name":"t"},"transform":[{"fold":["hi","av","lo"]},{"aggregate":[{"op":"mean","field":"value","as":"m"}],"groupby":["d"]}],
"mark":{"type":"area","line":{"color":"#7f8aa3","strokeWidth":1.2},"color":{"gradient":"linear","x1":0,"y1":0,"x2":0,"y2":1,"stops":[{"offset":0,"color":"#e3e6ed"},{"offset":1,"color":"#a9b0c4"}]}},
"encoding":{
"x":{"field":"d","type":"temporal","scale":{"type":"utc","nice":false,"padding":0,"domain":[{"year":2010,"month":1,"date":1,"utc":true},{"year":2020,"month":12,"date":31,"utc":true}]},
"axis":{"title":null,"labels":false,"ticks":false,"grid":false,"domainColor":"#888888","domainWidth":1.5}},
"y":{"field":"m","type":"quantitative","scale":{"domain":[17,37],"zero":false,"nice":false,"clamp":true},"axis":null}
}},
{"data":{"name":"ends"},"mark":{"type":"rule","color":"#444444","strokeWidth":1.5},
"encoding":{"x":{"field":"d","type":"temporal"}}},
{"data":{"name":"ends"},"mark":{"type":"point","shape":"M-0.45,-0.85Q-0.45,-1,-0.3,-1L0.3,-1Q0.45,-1,0.45,-0.85L0.45,0.85Q0.45,1,0.3,1L-0.3,1Q-0.45,1,-0.45,0.85Z","size":400,"filled":true,"color":"#d4d4d4","stroke":"#555555","strokeWidth":1.2,"opacity":1},
"encoding":{"x":{"field":"d","type":"temporal"}}}
]
}
]
}
